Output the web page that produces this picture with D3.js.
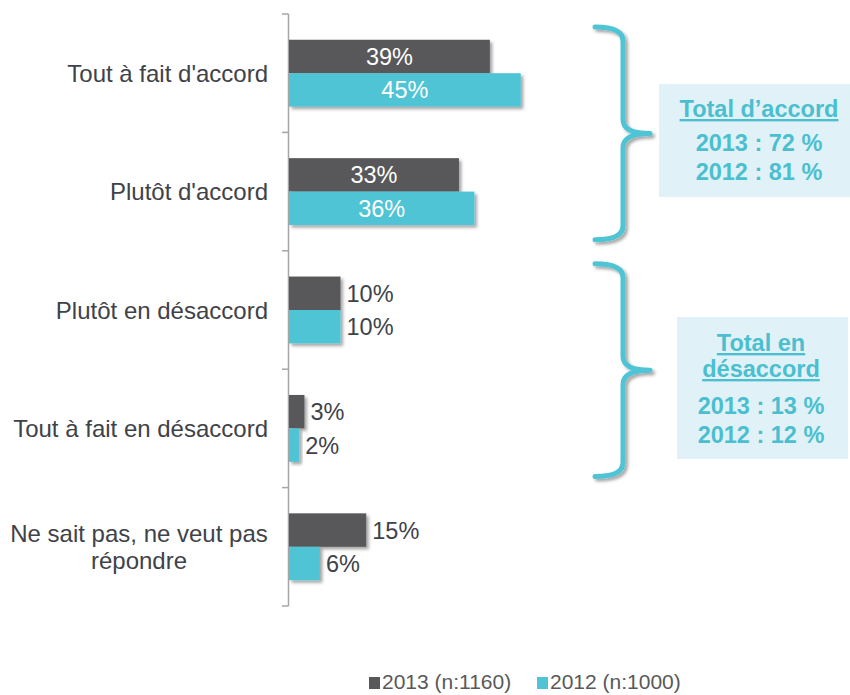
<!DOCTYPE html>
<html><head><meta charset="utf-8">
<script src="https://cdn.jsdelivr.net/npm/d3@7"></script>
<style>body{margin:0;background:#fff}svg{display:block;font-family:"Liberation Sans",Arial,sans-serif}</style>
</head><body>
<svg id="c" width="850" height="695"></svg>
<script>
const categories = ["Tout à fait d'accord","Plutôt d'accord","Plutôt en désaccord","Tout à fait en désaccord","Ne sait pas, ne veut pas répondre"];
const categoryLines = [["Tout à fait d'accord"],["Plutôt d'accord"],["Plutôt en désaccord"],["Tout à fait en désaccord"],["Ne sait pas, ne veut pas","répondre"]];
const seriesNames = ["2013 (n:1160)","2012 (n:1000)"];
const values2013 = [39,33,10,3,15];
const values2012 = [45,36,10,2,6];
const groups = [
  {from:0,to:1,title:["Total d’accord"],lines:["2013 : 72 %","2012 : 81 %"]},
  {from:2,to:3,title:["Total en","désaccord"],lines:["2013 : 13 %","2012 : 12 %"]}
];
const colors = ["#58585a","#50c4d4"];
const accent = "#4bbfd0";
const txt = "#404249";

const svg = d3.select("#c");
const defs = svg.append("defs");
const f = defs.append("filter").attr("id","sh").attr("x","-20%").attr("y","-20%").attr("width","150%").attr("height","160%");
f.append("feDropShadow").attr("dx",2.5).attr("dy",2.5).attr("stdDeviation",1.8).attr("flood-color","#000").attr("flood-opacity",0.35);

const x0 = 289;
const x = d3.scaleLinear().domain([0,1]).range([x0, x0+5.15]);
const y = d3.scaleBand().domain(categories).range([14,606]).padding(0);
const ys = d3.scaleBand().domain(seriesNames).range([0,y.bandwidth()]).paddingInner(0).paddingOuter(0.77);

const data = categories.map((c,i)=>({cat:c, lines:categoryLines[i], vals:[values2013[i],values2012[i]]}));

// axis
const ax = svg.append("g").attr("stroke","#a6a6a6").attr("stroke-width",1.5);
ax.append("line").attr("x1",x0-0.5).attr("x2",x0-0.5).attr("y1",y.range()[0]).attr("y2",y.range()[1]);
const tickYs = categories.map(c=>y(c)).concat([y.range()[1]]);
ax.selectAll("line.t").data(tickYs).join("line").attr("class","t")
  .attr("x1",x0-7).attr("x2",x0-0.5).attr("y1",d=>d).attr("y2",d=>d);

// bars
const g = svg.append("g");
data.forEach(d=>{
  d.vals.forEach((v,j)=>{
    const yy = y(d.cat)+ys(seriesNames[j]);
    const h = ys.bandwidth();
    g.append("rect").attr("x",x(0)).attr("y",yy).attr("width",x(v)-x(0)).attr("height",h)
      .attr("fill",colors[j]).attr("filter","url(#sh)");
  });
});
data.forEach(d=>{
  d.vals.forEach((v,j)=>{
    const yy = y(d.cat)+ys(seriesNames[j]);
    const h = ys.bandwidth();
    const inside = v>=20;
    g.append("text").attr("x", inside ? (x(0)+x(v))/2 : x(v)+6)
      .attr("y", yy+h/2).attr("dy","0.36em")
      .attr("text-anchor", inside?"middle":"start")
      .attr("fill", inside?"#fff":txt).attr("font-size",23.5)
      .text(v+"%");
  });
});

// category labels
data.forEach(d=>{
  const cy = y(d.cat)+y.bandwidth()/2;
  const lh = 27;
  const n = d.lines.length;
  const t = svg.append("text").attr("font-size",24).attr("fill",txt);
  if(n===1){
    t.attr("x",268).attr("y",cy).attr("dy","0.36em").attr("text-anchor","end").text(d.lines[0]);
  } else {
    t.attr("text-anchor","middle");
    d.lines.forEach((l,k)=>{
      t.append("tspan").attr("x",139).attr("y",cy+(k-(n-1)/2)*lh).attr("dy","0.36em").text(l);
    });
  }
});

// brackets + boxes
const boxes = [{x:659,y:84,w:191,h:113,cx:759},{x:677,y:317,w:171,h:142,cx:761}];
groups.forEach((gr,i)=>{
  const top = y(categories[gr.from])+13;
  const bot = y(categories[gr.to])+y.bandwidth()-11;
  const mid = (top+bot)/2;
  const xl=595, xv=623, xt=650, r=14;
  const p = `M${xl},${top} Q${xv},${top} ${xv},${top+r} L${xv},${mid-r} Q${xv},${mid} ${xt},${mid} Q${xv},${mid} ${xv},${mid+r} L${xv},${bot-r} Q${xv},${bot} ${xl},${bot}`;
  svg.append("path").attr("d",p).attr("fill","none").attr("stroke",colors[1]).attr("stroke-width",5)
    .attr("stroke-linejoin","round").attr("stroke-linecap","round").attr("filter","url(#sh)");
  const b = boxes[i];
  svg.append("rect").attr("x",b.x).attr("y",b.y).attr("width",b.w).attr("height",b.h).attr("fill","#e0f2f7");
  const tg = svg.append("g").attr("font-weight","bold").attr("font-size",23.5).attr("fill",accent).attr("text-anchor","middle");
  const titleBase = i===0 ? [117] : [351,377];
  gr.title.forEach((l,k)=>{
    tg.append("text").attr("x",b.cx).attr("y",titleBase[k]).attr("text-decoration","underline").text(l);
  });
  const lineBase = i===0 ? [151,180] : [414,443];
  gr.lines.forEach((l,k)=>{
    tg.append("text").attr("x",b.cx).attr("y",lineBase[k]).text(l);
  });
});

// legend
const leg = svg.append("g").attr("font-size",21).attr("fill","#595959");
const legX = [369,537];
seriesNames.forEach((s,j)=>{
  leg.append("rect").attr("x",legX[j]).attr("y",677).attr("width",11).attr("height",12).attr("fill",colors[j]);
  leg.append("text").attr("x",legX[j]+13).attr("y",689).text(s);
});
</script>
</body></html>
